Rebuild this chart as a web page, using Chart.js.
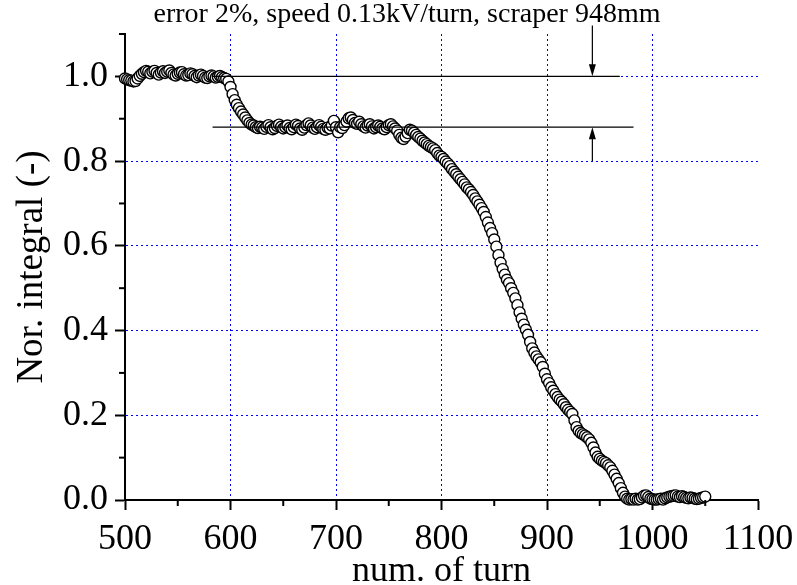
<!DOCTYPE html>
<html>
<head>
<meta charset="utf-8">
<script src="https://cdn.jsdelivr.net/npm/chart.js@4.4.1/dist/chart.umd.min.js"></script>
<style>
  html, body { margin: 0; padding: 0; background: #fff; }
</style>
</head>
<body>
<canvas id="chart" width="797" height="585"></canvas>
<script>
// Data
const chartTitle = 'error 2%, speed 0.13kV/turn, scraper 948mm';

const turns = [
  500, 502, 504, 506, 508, 510, 512, 514, 516, 518, 520, 522, 524, 526, 528, 530, 532, 534, 536, 538,
  540, 542, 544, 546, 548, 550, 552, 554, 556, 558, 560, 562, 564, 566, 568, 570, 572, 574, 576, 578,
  580, 582, 584, 586, 588, 590, 592, 594, 596, 598,
  600, 602, 604, 606, 608, 610, 612, 614, 616, 618, 620, 622, 624, 626, 628, 630, 632, 634, 636, 638,
  640, 642, 644, 646, 648, 650, 652, 654, 656, 658, 660, 662, 664, 666, 668, 670, 672, 674, 676, 678,
  680, 682, 684, 686, 688, 690, 692, 694, 696, 698,
  700, 702, 704, 706, 708, 710, 712, 714, 716, 718, 720, 722, 724, 726, 728, 730, 732, 734, 736, 738,
  740, 742, 744, 746, 748, 750, 752, 754, 756, 758, 760, 762, 764, 766, 768, 770, 772, 774, 776, 778,
  780, 782, 784, 786, 788, 790, 792, 794, 796, 798,
  800, 802, 804, 806, 808, 810, 812, 814, 816, 818, 820, 822, 824, 826, 828, 830, 832, 834, 836, 838,
  840, 842, 844, 846, 848, 850, 852, 854, 856, 858, 860, 862, 864, 866, 868, 870, 872, 874, 876, 878,
  880, 882, 884, 886, 888, 890, 892, 894, 896, 898,
  900, 902, 904, 906, 908, 910, 912, 914, 916, 918, 920, 922, 924, 926, 928, 930, 932, 934, 936, 938,
  940, 942, 944, 946, 948, 950, 952, 954, 956, 958, 960, 962, 964, 966, 968, 970, 972, 974, 976, 978,
  980, 982, 984, 986, 988, 990, 992, 994, 996, 998,
  1000, 1002, 1004, 1006, 1008, 1010, 1012, 1014, 1016, 1018, 1020, 1022, 1024, 1026, 1028, 1030,
  1032, 1034, 1036, 1038, 1040, 1042, 1044, 1046, 1048, 1050
];

const integral = [
  0.995, 0.993, 0.991, 0.990, 0.988, 0.989, 0.995, 1.001, 1.006, 1.010, 1.013, 1.011, 1.007, 1.011, 1.013, 1.008, 1.004, 1.009, 1.012, 1.008,
  1.011, 1.014, 1.008, 1.004, 1.002, 1.006, 1.009, 1.010, 1.005, 1.002, 1.003, 1.007, 1.005, 1.001, 0.998, 1.002, 1.004, 1.001, 0.997, 0.996,
  1.000, 1.002, 1.000, 0.997, 0.999, 1.001, 0.998, 0.996, 0.994, 0.988,
  0.975, 0.958, 0.944, 0.933, 0.925, 0.917, 0.910, 0.903, 0.896, 0.890, 0.886, 0.884, 0.880, 0.878, 0.881, 0.879, 0.876, 0.881, 0.885, 0.880,
  0.875, 0.878, 0.883, 0.886, 0.881, 0.877, 0.880, 0.884, 0.878, 0.875, 0.880, 0.886, 0.883, 0.877, 0.874, 0.879, 0.885, 0.889, 0.884, 0.879,
  0.876, 0.880, 0.885, 0.881, 0.876, 0.874, 0.879, 0.877, 0.884, 0.895,
  0.880, 0.868, 0.880, 0.878, 0.885, 0.893, 0.901, 0.903, 0.897, 0.890, 0.888, 0.893, 0.887, 0.882, 0.879, 0.884, 0.887, 0.882, 0.877, 0.880,
  0.884, 0.881, 0.877, 0.875, 0.880, 0.885, 0.887, 0.882, 0.877, 0.872, 0.862, 0.855, 0.852, 0.858, 0.866, 0.874, 0.872, 0.867, 0.862, 0.857,
  0.853, 0.848, 0.844, 0.840, 0.836, 0.833, 0.830, 0.826, 0.819, 0.813,
  0.810, 0.805, 0.799, 0.794, 0.788, 0.781, 0.775, 0.769, 0.763, 0.757, 0.751, 0.745, 0.738, 0.733, 0.727, 0.720, 0.712, 0.705, 0.697, 0.689,
  0.680, 0.668, 0.655, 0.642, 0.630, 0.615, 0.598, 0.578, 0.560, 0.545, 0.532, 0.520, 0.512, 0.500, 0.489, 0.476, 0.460, 0.443, 0.428, 0.414,
  0.402, 0.390, 0.373, 0.358, 0.348, 0.339, 0.332, 0.325, 0.314, 0.298,
  0.285, 0.276, 0.266, 0.258, 0.250, 0.243, 0.237, 0.232, 0.226, 0.219, 0.213, 0.208, 0.203, 0.188, 0.172, 0.163, 0.158, 0.155, 0.152, 0.148,
  0.143, 0.135, 0.124, 0.112, 0.102, 0.097, 0.093, 0.090, 0.087, 0.082, 0.077, 0.069, 0.060, 0.050, 0.040, 0.028, 0.017, 0.008, 0.003, 0.001,
  0.002, 0.001, 0.003, 0.001, 0.002, 0.006, 0.010, 0.011, 0.007, 0.003,
  0.002, 0.001, 0.001, 0.002, 0.003, 0.001, 0.004, 0.006, 0.008, 0.009, 0.010, 0.011, 0.008, 0.007, 0.009, 0.007,
  0.005, 0.004, 0.006, 0.005, 0.003, 0.002, 0.003, 0.005, 0.006, 0.008
];

// Tick values
const xTicks = [500, 600, 700, 800, 900, 1000, 1100];
const xMinor = [550, 650, 750, 850, 950, 1050];
const yTicks = [0, 0.2, 0.4, 0.6, 0.8, 1.0];
const yMinor = [0.1, 0.3, 0.5, 0.7, 0.9, 1.1];

// Reference lines and arrows (data coordinates)
const upperLineX = [583, 969];
const upperLineY = [1.0, 1.0];
const lowerLineX = [583, 982];
const lowerLineY = [0.88, 0.88];
const arrowX = 943;
const downArrowY = [1.12, 1.0];
const upArrowY = [0.8, 0.88];

const serif = '"Liberation Serif", "Times New Roman", serif';
Chart.defaults.font.family = serif;
Chart.defaults.color = '#000';

function drawArrow(ctx, px, y0, y1) {
  const dir = y1 > y0 ? 1 : -1;
  ctx.beginPath();
  ctx.moveTo(px, y0);
  ctx.lineTo(px, y1 - dir * 10);
  ctx.stroke();
  ctx.beginPath();
  ctx.moveTo(px, y1);
  ctx.lineTo(px - 3.5, y1 - dir * 12);
  ctx.lineTo(px + 3.5, y1 - dir * 12);
  ctx.closePath();
  ctx.fill();
}

const decorPlugin = {
  id: 'decor',
  afterDraw(chart) {
    const { ctx, scales: { x, y } } = chart;
    ctx.save();
    ctx.strokeStyle = '#000';
    ctx.fillStyle = '#000';
    ctx.lineWidth = 2;
    // minor ticks
    xMinor.forEach(v => {
      const px = x.getPixelForValue(v);
      ctx.beginPath();
      ctx.moveTo(px, y.bottom);
      ctx.lineTo(px, y.bottom + 6);
      ctx.stroke();
    });
    yMinor.forEach(v => {
      const py = y.getPixelForValue(v);
      ctx.beginPath();
      ctx.moveTo(x.left, py);
      ctx.lineTo(x.left - 6, py);
      ctx.stroke();
    });
    // arrows
    ctx.lineWidth = 1.2;
    const ax = x.getPixelForValue(arrowX);
    drawArrow(ctx, ax, y.getPixelForValue(downArrowY[0]), y.getPixelForValue(downArrowY[1]));
    drawArrow(ctx, ax, y.getPixelForValue(upArrowY[0]), y.getPixelForValue(upArrowY[1]));
    // title
    ctx.font = '28px ' + serif;
    ctx.textAlign = 'center';
    ctx.textBaseline = 'middle';
    ctx.fillText(chartTitle, 407, 15);
    ctx.restore();
  }
};

const lineStyle = {
  type: 'line',
  showLine: true,
  borderColor: '#000',
  borderWidth: 1.2,
  pointRadius: 0,
  fill: false,
  clip: false
};

new Chart(document.getElementById('chart'), {
  type: 'scatter',
  data: {
    datasets: [
      Object.assign({ data: upperLineX.map((v, i) => ({ x: v, y: upperLineY[i] })) }, lineStyle),
      Object.assign({ data: lowerLineX.map((v, i) => ({ x: v, y: lowerLineY[i] })) }, lineStyle),
      {
        data: turns.map((t, i) => ({ x: t, y: integral[i] })),
        pointRadius: 5.5,
        pointBorderWidth: 1.4,
        pointBorderColor: '#000',
        pointBackgroundColor: '#fff',
        clip: false
      }
    ]
  },
  options: {
    responsive: false,
    animation: false,
    events: [],
    layout: { padding: { top: 34, right: 39, left: 0, bottom: 0 } },
    plugins: {
      legend: { display: false },
      tooltip: { enabled: false }
    },
    scales: {
      x: {
        type: 'linear',
        min: 500,
        max: 1100,
        afterBuildTicks: s => { s.ticks = xTicks.map(v => ({ value: v })); },
        afterFit: s => { s.height = 85; s.paddingLeft = 0; s.paddingRight = 0; },
        ticks: { font: { size: 36 }, padding: 8, maxRotation: 0, callback: v => String(v) },
        grid: {
          color: c => (c.tick && (c.tick.value === 500 || c.tick.value === 1100)) ? 'rgba(0,0,0,0)' : '#0000ff',
          lineWidth: 1,
          tickColor: '#000',
          tickLength: 10,
          tickWidth: 2
        },
        border: { color: '#000', width: 2, dash: [2, 3] },
        title: {
          display: true,
          text: 'num. of turn',
          font: { size: 36, lineHeight: 1 },
          padding: { top: 0, bottom: -5 }
        }
      },
      y: {
        type: 'linear',
        min: 0,
        max: 1.1,
        afterBuildTicks: s => { s.ticks = yTicks.map(v => ({ value: v })); },
        afterFit: s => { s.width = 125; },
        ticks: { font: { size: 36 }, padding: 7, callback: v => v.toFixed(1) },
        grid: {
          color: c => (c.tick && c.tick.value === 0) ? 'rgba(0,0,0,0)' : '#0000ff',
          lineWidth: 1,
          tickColor: '#000',
          tickLength: 10,
          tickWidth: 2
        },
        border: { color: '#000', width: 2, dash: [2, 3] },
        title: {
          display: true,
          text: 'Nor. integral (-)',
          font: { size: 37, lineHeight: 1 },
          padding: { top: 14, bottom: 0 }
        }
      }
    }
  },
  plugins: [decorPlugin]
});
</script>
</body>
</html>
